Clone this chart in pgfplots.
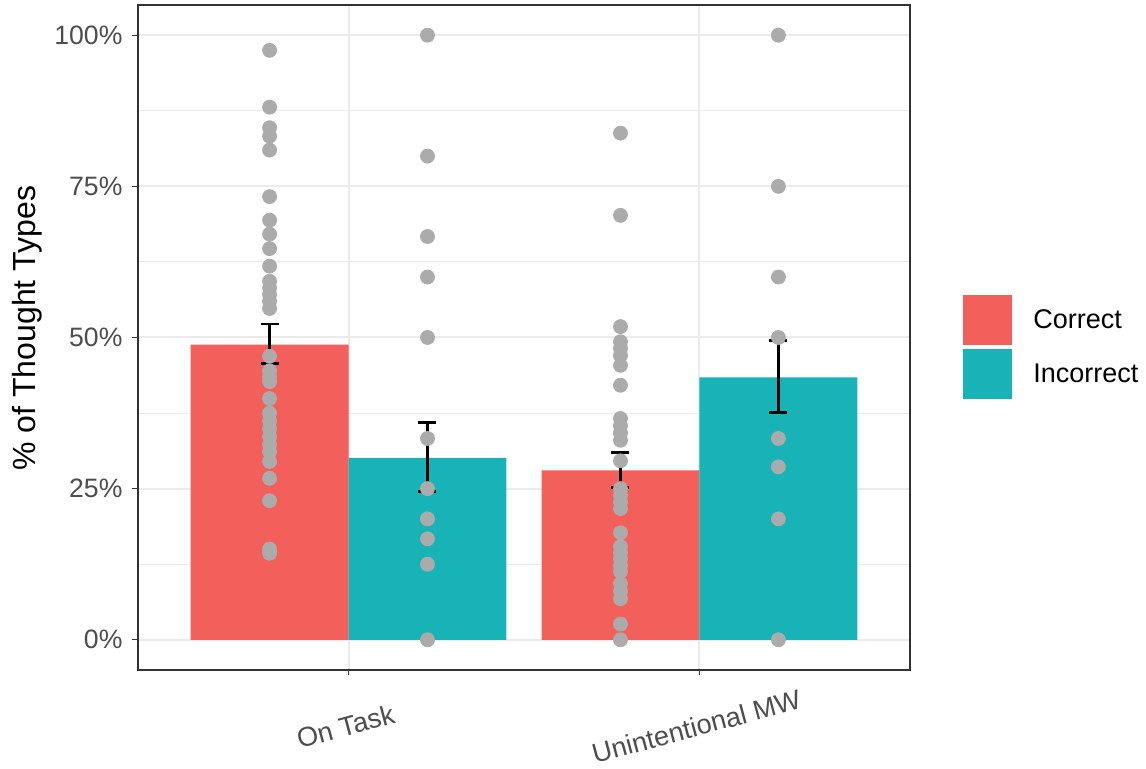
\documentclass[border=0pt]{standalone}
\usepackage{fontspec}
\setmainfont{Liberation Sans}
\usepackage{pgfplots}
\pgfplotsset{compat=1.18}
\definecolor{cred}{HTML}{F35F5A}
\definecolor{cteal}{HTML}{18B3B7}
\definecolor{dotgray}{HTML}{ABABAB}
\definecolor{gridgray}{HTML}{EBEBEB}
\definecolor{gray20}{HTML}{333333}
\definecolor{gray30}{HTML}{4D4D4D}
\begin{document}
\begin{tikzpicture}
\path[use as bounding box] (-69pt,-49.5pt) rectangle (504pt,335pt);
\begin{axis}[
  scale only axis, width=386pt, height=332.5pt,
  xmin=0.4, xmax=2.6, ymin=-5, ymax=105,
  xtick={1,2}, xticklabels={On Task,Unintentional MW},
  ytick={0,25,50,75,100}, yticklabels={0\%,25\%,50\%,75\%,100\%},
  minor ytick={12.5,37.5,62.5,87.5},
  xmajorgrids, ymajorgrids, yminorgrids,
  major grid style={gridgray, line width=1pt},
  minor grid style={gridgray, line width=0.5pt},
  tick align=outside, major tick length=2.75pt, minor tick length=0pt,
  tick pos=left,
  tick style={gray20, line width=0.6pt},
  axis line style={gray20, line width=0.6pt},
  yticklabel style={font=\fontsize{13.3}{15}\selectfont, text=gray30, xshift=-1.5pt},
  xticklabel style={font=\fontsize{13.6}{15}\selectfont, text=gray30,
    rotate=15, anchor=center, xshift=-8.1pt, yshift=-24.2pt},
  ylabel={\% of Thought Types},
  ylabel style={font=\fontsize{16}{18}\selectfont, at={(axis description cs:-0.143,0.514)}, anchor=center},
  legend style={at={(1.0687,0.485)}, anchor=west, draw=none, fill=none,
    font=\fontsize{13.5}{16}\selectfont, row sep=2pt, column sep=10.5pt,
    inner sep=0pt, nodes={inner sep=0pt}},
  legend cell align=left,
  legend image code/.code={\fill[#1,draw=none] (0pt,-12.5pt) rectangle (24.5pt,12.5pt);},
]
\addplot[ybar, bar width=0.45, bar shift=0pt, fill=cred, draw=none]
  coordinates {(0.775,48.8) (1.775,28.0)};
\addlegendentry{Correct}
\addplot[ybar, bar width=0.45, bar shift=0pt, fill=cteal, draw=none]
  coordinates {(1.225,30.1) (2.225,43.4)};
\addlegendentry{Incorrect}
% individual points
\addplot[only marks, mark=*, mark size=3.5pt, color=dotgray, forget plot]
  coordinates {
  (0.775,97.5) (0.775,88.1) (0.775,84.7) (0.775,83.3) (0.775,81.0) (0.775,73.3)
  (0.775,69.4) (0.775,67.1) (0.775,64.7) (0.775,61.8) (0.775,59.3) (0.775,58.2)
  (0.775,57.1) (0.775,56.0) (0.775,54.8) (0.775,46.9) (0.775,44.5) (0.775,43.5)
  (0.775,42.7) (0.775,39.9) (0.775,37.5) (0.775,36.2) (0.775,34.9) (0.775,33.6)
  (0.775,32.3) (0.775,31.1) (0.775,29.5) (0.775,26.7) (0.775,23.0) (0.775,15.0)
  (0.775,14.3)
  };
\addplot[only marks, mark=*, mark size=3.5pt, color=dotgray, forget plot]
  coordinates {
  (1.225,100) (1.225,80) (1.225,66.7) (1.225,60) (1.225,50) (1.225,33.3)
  (1.225,25) (1.225,20) (1.225,16.7) (1.225,12.5) (1.225,0)
  };
\addplot[only marks, mark=*, mark size=3.5pt, color=dotgray, forget plot]
  coordinates {
  (1.775,83.8) (1.775,70.2) (1.775,51.8) (1.775,49.3) (1.775,48.2) (1.775,47.0)
  (1.775,45.4) (1.775,42.1) (1.775,36.6) (1.775,35.4) (1.775,34.2) (1.775,33.0)
  (1.775,29.6) (1.775,25.0) (1.775,23.9) (1.775,22.8) (1.775,21.7) (1.775,17.7)
  (1.775,15.4) (1.775,14.4) (1.775,13.4) (1.775,12.3) (1.775,11.3) (1.775,9.3)
  (1.775,8.0) (1.775,6.8) (1.775,2.6) (1.775,0)
  };
\addplot[only marks, mark=*, mark size=3.5pt, color=dotgray, forget plot]
  coordinates {
  (2.225,100) (2.225,75) (2.225,60) (2.225,50) (2.225,33.3) (2.225,28.6)
  (2.225,20) (2.225,0)
  };
% error bars
\addplot[draw=none, mark=none, forget plot,
  error bars/.cd, y dir=both, y explicit,
  error bar style={draw=black, line width=1.3pt},
  error mark options={rotate=90, draw=black, line width=1.3pt, mark size=4.5pt}]
  coordinates {
  (0.775,48.8) += (0,3.4) -= (0,3.1)
  (1.225,30.1) += (0,5.8) -= (0,5.6)
  (1.775,28.0) += (0,3.0) -= (0,2.8)
  (2.225,43.4) += (0,6.1) -= (0,5.8)
  };
\end{axis}
\end{tikzpicture}
\end{document}
